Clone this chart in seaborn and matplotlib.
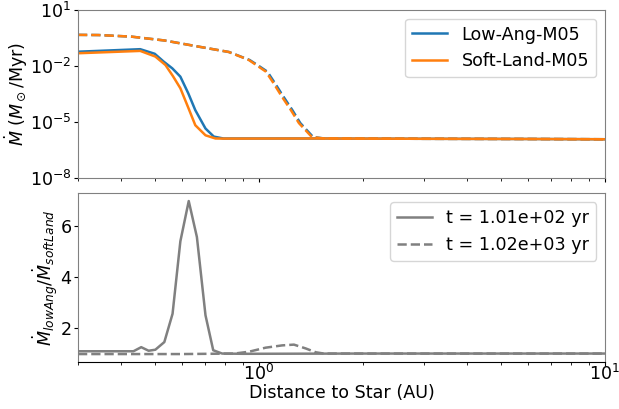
import numpy as np
import pandas as pd
import matplotlib
matplotlib.use("Agg")
import matplotlib.pyplot as plt
import seaborn as sns

# ---- data ----
x_solid_blue = [0.30, 0.454, 0.50, 0.531, 0.562, 0.593, 0.625, 0.655, 0.701, 0.741, 0.79, 1.5, 3.0, 6.0, 10.0]
y_solid_blue = [0.058, 0.079, 0.045, 0.017, 0.0075, 0.0027, 3.5e-4, 4.4e-5, 4.6e-6, 1.7e-6, 1.35e-6, 1.35e-6, 1.3e-6, 1.27e-6, 1.23e-6]

x_solid_orange = [0.30, 0.454, 0.502, 0.537, 0.565, 0.593, 0.625, 0.655, 0.701, 0.749, 0.79, 1.5, 3.0, 6.0, 10.0]
y_solid_orange = [0.048, 0.064, 0.032, 0.0113, 0.0028, 6.5e-4, 6.0e-5, 6.9e-6, 2.0e-6, 1.35e-6, 1.33e-6, 1.35e-6, 1.3e-6, 1.27e-6, 1.23e-6]

x_dash_orange = [0.30, 0.344, 0.428, 0.534, 0.670, 0.819, 0.935, 0.987, 1.048, 1.100, 1.166, 1.238, 1.306, 1.424, 1.54, 3.0, 6.0, 10.0]
y_dash_orange = [0.46, 0.45, 0.37, 0.23, 0.108, 0.056, 0.021, 0.0107, 0.005, 0.0013, 2.3e-4, 4.4e-5, 8.9e-6, 1.6e-6, 1.35e-6, 1.3e-6, 1.27e-6, 1.23e-6]

x_dash_blue = [0.30, 0.344, 0.428, 0.534, 0.670, 0.819, 0.940, 0.995, 1.058, 1.110, 1.178, 1.25, 1.318, 1.436, 1.55, 3.0, 6.0, 10.0]
y_dash_blue = y_dash_orange

x_ratio_early = [0.30, 0.434, 0.457, 0.480, 0.502, 0.533, 0.563, 0.593, 0.627, 0.662, 0.701, 0.738, 0.783, 0.9, 2.0, 5.0, 10.0]
y_ratio_early = [1.09, 1.09, 1.25, 1.11, 1.15, 1.45, 2.56, 5.4, 6.98, 5.57, 2.5, 1.13, 1.0, 0.99, 1.0, 1.0, 1.0]

x_ratio_late = [0.30, 0.6, 0.85, 0.935, 1.046, 1.168, 1.263, 1.366, 1.46, 1.54, 3.0, 10.0]
y_ratio_late = [0.98, 0.98, 1.0, 1.07, 1.23, 1.32, 1.35, 1.2, 1.05, 1.0, 1.0, 1.0]

labels_top = ["Low-Ang-M05", "Soft-Land-M05"]
labels_bottom = ["t = 1.01e+02 yr", "t = 1.02e+03 yr"]

plt.rcParams['font.family'] = ['DejaVu Sans']
plt.rcParams['font.size'] = 12.6
plt.rcParams['xtick.major.size'] = 3.2
plt.rcParams['ytick.major.size'] = 3.2
plt.rcParams['xtick.minor.size'] = 1.8
plt.rcParams['xtick.major.pad'] = -1.5
plt.rcParams['ytick.major.pad'] = 1.5

fig, (ax1, ax2) = plt.subplots(2, 1, figsize=(6.19, 4.09), dpi=100, sharex=True)
fig.subplots_adjust(left=0.126, right=0.977, top=0.976, bottom=0.115, hspace=0.089)

blue = "#1f77b4"
orange = "#ff7f0e"

sns.lineplot(x=x_solid_blue, y=y_solid_blue, ax=ax1, color=blue, lw=1.8, label=labels_top[0], estimator=None, sort=False)
sns.lineplot(x=x_dash_blue, y=y_dash_blue, ax=ax1, color=blue, lw=1.8, linestyle="--", estimator=None, sort=False)
sns.lineplot(x=x_solid_orange, y=y_solid_orange, ax=ax1, color=orange, lw=1.8, label=labels_top[1], estimator=None, sort=False)
sns.lineplot(x=x_dash_orange, y=y_dash_orange, ax=ax1, color=orange, lw=1.8, linestyle="--", estimator=None, sort=False)

ax1.set_xscale("log")
ax1.set_yscale("log")
ax1.set_xlim(0.3, 10)
ax1.set_ylim(1e-8, 1e1)
ax1.set_yticks([1e1, 1e-2, 1e-5, 1e-8])
ax1.yaxis.set_minor_locator(matplotlib.ticker.NullLocator())
ax1.set_ylabel(r"$\dot{M}$ ($M_\odot$/Myr)", labelpad=0)
ax1.legend(loc="upper right", fontsize=12.6)

sns.lineplot(x=x_ratio_early, y=y_ratio_early, ax=ax2, color="gray", lw=1.8, label=labels_bottom[0], estimator=None, sort=False)
sns.lineplot(x=x_ratio_late, y=y_ratio_late, ax=ax2, color="gray", lw=1.8, linestyle="--", label=labels_bottom[1], estimator=None, sort=False)
ax2.set_ylim(0.67, 7.28)
ax2.set_yticks([2, 4, 6])
ax2.set_xlabel("Distance to Star (AU)", labelpad=0)
ax2.set_ylabel(r"$\dot{M}_{lowAng}/\dot{M}_{softLand}$", labelpad=0)
ax2.legend(loc="upper right", fontsize=12.6)

for ax in (ax1, ax2):
    for s in ax.spines.values():
        s.set_color("gray")
ax2.spines["bottom"].set_color("black")

fig.savefig("out.png", dpi=100)
